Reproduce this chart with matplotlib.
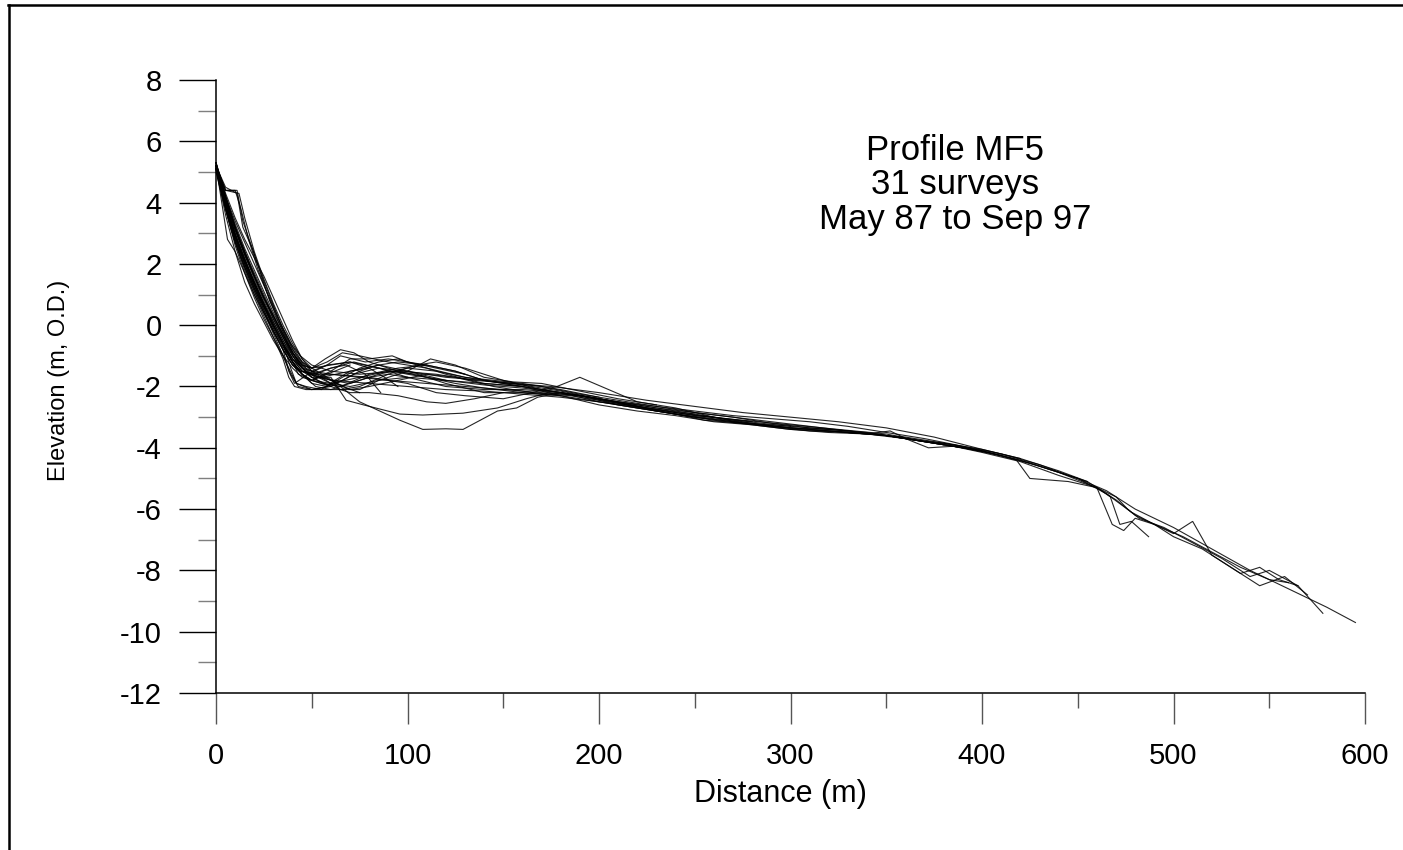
import matplotlib
matplotlib.use("Agg")
import matplotlib.pyplot as plt
from matplotlib.lines import Line2D
from matplotlib.ticker import MultipleLocator

plt.rcParams['font.family'] = ['Liberation Sans', 'DejaVu Sans']
plt.rcParams['axes.unicode_minus'] = False

# ---------------- data: 31 beach profile surveys (distance m, elevation m O.D.) ----------------
dist_01 = [0, 4, 8, 12, 16, 20, 25, 30, 35, 40, 45, 50, 60, 75, 90, 110, 130, 150, 170, 190, 210, 230, 250, 270, 290, 310, 330, 350, 370, 390, 410, 430, 450, 465, 480, 500, 520, 540, 560, 580, 595]
elev_01 = [5.3, 4.3, 3.3, 2.6, 2.0, 1.4, 0.7, 0.0, -0.6, -1.1, -1.4, -1.5, -1.6, -1.7, -1.8, -1.9, -2.0, -2.1, -2.2, -2.3, -2.5, -2.7, -2.85, -3.0, -3.15, -3.3, -3.45, -3.6, -3.8, -4.0, -4.25, -4.6, -5.0, -5.4, -6.0, -6.6, -7.3, -8.0, -8.6, -9.2, -9.7]

dist_02 = [0, 5, 10, 13, 17, 22, 27, 32, 37, 42, 47, 52, 62, 80, 100, 120, 140, 160, 180, 200, 220, 240, 255, 275, 300, 320, 340, 352, 362, 372, 385, 400, 420, 440, 460, 468, 474, 480, 490, 500, 510, 520, 535, 545, 555, 565, 578]
elev_02 = [5.2, 4.4, 4.4, 3.8, 2.8, 1.8, 1.0, 0.2, -0.5, -1.1, -1.5, -1.7, -1.8, -1.9, -2.0, -2.1, -2.15, -2.25, -2.35, -2.5, -2.65, -2.9, -3.1, -3.2, -3.35, -3.45, -3.55, -3.45, -3.75, -4.0, -3.95, -4.15, -4.45, -4.9, -5.3, -6.5, -6.7, -6.3, -6.5, -6.8, -6.4, -7.5, -8.1, -7.9, -8.3, -8.5, -9.4]

dist_03 = [0, 5, 10, 15, 20, 25, 30, 35, 40, 45, 50, 55, 65, 80, 95, 110, 125, 140, 160, 180, 200, 220, 240, 260, 280, 300, 320, 345, 360, 380, 400, 418, 425, 445, 460, 470, 476, 482, 495, 510, 525, 540, 550, 565]
elev_03 = [5.1, 3.9, 2.9, 2.0, 1.2, 0.5, -0.2, -0.8, -1.3, -1.6, -1.8, -1.9, -2.0, -1.6, -1.4, -1.3, -1.5, -1.8, -2.0, -2.3, -2.6, -2.8, -2.95, -3.15, -3.25, -3.4, -3.45, -3.55, -3.7, -3.9, -4.1, -4.4, -5.0, -5.1, -5.3, -5.6, -6.0, -6.3, -6.6, -7.1, -7.6, -8.2, -8.0, -8.5]

dist_04 = [0, 5, 10, 15, 20, 25, 30, 35, 40, 45, 50, 60, 70, 85, 100, 120, 140, 160, 180, 200, 220, 240, 260, 280, 300, 320, 340, 360, 380, 400, 420, 440, 455, 470, 480, 490, 500, 515, 530, 545, 558, 570]
elev_04 = [5.2, 4.1, 3.1, 2.3, 1.6, 0.9, 0.3, -0.3, -0.9, -1.3, -1.6, -1.9, -2.0, -1.8, -1.7, -1.8, -1.9, -2.0, -2.2, -2.4, -2.6, -2.8, -3.0, -3.2, -3.35, -3.4, -3.5, -3.7, -3.85, -4.05, -4.35, -4.75, -5.1, -5.7, -6.2, -6.5, -6.9, -7.3, -7.9, -8.5, -8.2, -8.8]

dist_05 = [0, 6, 12, 18, 24, 30, 36, 42, 48, 55, 70, 85, 100, 120, 140, 160, 180, 200, 225, 250, 275, 300, 325, 350, 375, 400, 425, 450, 465, 478, 490, 505, 520, 535, 550, 560]
elev_05 = [5.3, 4.0, 2.8, 1.9, 1.0, 0.3, -0.5, -1.2, -1.6, -1.7, -1.5, -1.3, -1.5, -1.7, -1.8, -1.95, -2.15, -2.4, -2.7, -2.95, -3.1, -3.25, -3.4, -3.55, -3.85, -4.1, -4.5, -5.0, -5.5, -6.1, -6.5, -6.9, -7.4, -7.9, -8.3, -8.4]

dist_06 = [0, 5, 10, 15, 20, 25, 30, 35, 40, 45, 50, 58, 66, 75, 90, 110, 130, 150, 170, 190, 210, 230, 250, 270, 290, 310, 330, 350, 370, 390, 410, 430, 445, 455]
elev_06 = [5.2, 4.2, 3.3, 2.5, 1.8, 1.1, 0.4, -0.2, -0.8, -1.2, -1.4, -1.2, -0.9, -1.0, -1.2, -1.4, -1.7, -1.9, -2.1, -2.3, -2.5, -2.65, -2.8, -2.95, -3.05, -3.15, -3.3, -3.5, -3.7, -3.95, -4.2, -4.55, -4.9, -5.1]

dist_07 = [0, 5, 10, 15, 20, 25, 30, 35, 40, 45, 50, 60, 75, 90, 105, 120, 140, 160, 180, 200, 220, 240, 260, 280, 300, 320, 340, 360, 380, 400, 420, 440, 460, 467, 472, 478, 487]
elev_07 = [5.1, 3.8, 2.7, 1.9, 1.2, 0.6, 0.0, -0.6, -1.2, -1.6, -1.8, -1.9, -1.7, -1.5, -1.6, -1.9, -2.2, -2.2, -2.3, -2.5, -2.7, -2.9, -3.05, -3.2, -3.35, -3.45, -3.55, -3.65, -3.85, -4.1, -4.4, -4.8, -5.3, -5.6, -6.5, -6.4, -6.9]

dist_08 = [0, 5, 11, 14, 19, 24, 29, 34, 39, 44, 50, 60, 75, 95, 115, 135, 155, 175, 200, 225, 250, 275, 300, 325, 350, 375, 400, 420]
elev_08 = [5.2, 4.4, 4.4, 3.4, 2.5, 1.6, 0.8, 0.0, -0.6, -1.0, -1.3, -1.5, -1.6, -1.5, -1.6, -1.8, -1.9, -2.0, -2.2, -2.45, -2.65, -2.85, -3.0, -3.15, -3.35, -3.65, -4.05, -4.35]

dist_09 = [0, 4, 8, 13, 18, 23, 28, 33, 38, 42, 47, 55, 65, 75, 90, 105, 115, 130, 150, 170, 190, 210, 230, 250, 270, 290, 310, 330, 350, 370, 390, 410]
elev_09 = [5.0, 4.0, 3.1, 2.2, 1.4, 0.7, 0.0, -0.7, -1.4, -1.9, -2.0, -2.1, -2.1, -2.0, -1.6, -1.3, -1.2, -1.4, -1.8, -2.1, -2.3, -2.55, -2.8, -3.0, -3.15, -3.3, -3.4, -3.5, -3.6, -3.8, -4.0, -4.25]

dist_10 = [0, 5, 10, 15, 20, 25, 30, 35, 40, 45, 50, 60, 68, 77, 96, 108, 129, 147, 162, 174, 190, 210, 230, 250, 270, 290, 310, 330, 350, 370, 385, 400]
elev_10 = [5.3, 4.0, 2.9, 2.1, 1.3, 0.6, 0.0, -0.6, -1.1, -1.5, -1.7, -1.7, -2.45, -2.6, -2.9, -2.93, -2.87, -2.7, -2.4, -2.2, -2.3, -2.6, -2.8, -3.0, -3.15, -3.3, -3.45, -3.5, -3.6, -3.8, -3.9, -4.1]

dist_11 = [0, 5, 10, 15, 20, 25, 30, 35, 40, 45, 50, 56, 65, 75, 96, 108, 120, 129, 147, 157, 168, 180, 200, 220, 240, 260, 280, 300, 320, 340, 360, 380]
elev_11 = [5.2, 4.1, 3.2, 2.4, 1.6, 0.9, 0.2, -0.4, -1.0, -1.4, -1.7, -1.9, -2.0, -2.5, -3.1, -3.4, -3.38, -3.4, -2.8, -2.7, -2.35, -2.2, -2.5, -2.7, -2.9, -3.1, -3.25, -3.4, -3.5, -3.55, -3.7, -3.9]

dist_12 = [0, 5, 10, 15, 20, 25, 30, 35, 40, 45, 50, 60, 80, 100, 115, 130, 150, 165, 178, 190, 205, 220, 240, 260, 275, 290, 310, 330, 350]
elev_12 = [5.2, 4.0, 3.0, 2.2, 1.4, 0.7, 0.1, -0.5, -1.1, -1.5, -1.6, -1.6, -1.7, -1.9, -2.2, -2.3, -2.4, -2.2, -2.0, -1.7, -2.1, -2.5, -2.7, -3.0, -3.2, -3.25, -3.35, -3.45, -3.6]

dist_13 = [0, 5, 10, 15, 20, 25, 30, 35, 40, 45, 50, 60, 70, 80, 92, 100, 110, 125, 140, 155, 170, 190, 210, 230, 250, 270, 290, 310, 330]
elev_13 = [5.1, 3.6, 2.4, 1.4, 0.7, 0.1, -0.5, -1.0, -1.4, -1.7, -1.8, -1.5, -1.1, -1.1, -1.0, -1.2, -1.3, -1.5, -1.8, -1.9, -2.0, -2.25, -2.45, -2.65, -2.85, -3.0, -3.2, -3.35, -3.45]

dist_14 = [0, 5, 10, 15, 20, 25, 30, 35, 40, 45, 50, 60, 70, 80, 95, 110, 125, 145, 165, 185, 205, 225, 245, 265, 285, 300]
elev_14 = [5.2, 4.2, 3.4, 2.7, 2.0, 1.3, 0.6, -0.1, -0.7, -1.2, -1.5, -1.8, -2.1, -2.0, -1.8, -1.6, -1.7, -2.0, -2.2, -2.3, -2.5, -2.7, -2.9, -3.05, -3.2, -3.3]

dist_15 = [0, 4, 9, 14, 19, 24, 29, 34, 39, 44, 50, 60, 72, 85, 100, 120, 140, 160, 180, 200, 220, 240, 260, 280]
elev_15 = [5.3, 4.1, 3.1, 2.3, 1.5, 0.8, 0.1, -0.5, -1.1, -1.5, -1.6, -1.4, -1.2, -1.4, -1.6, -1.8, -1.95, -2.05, -2.2, -2.4, -2.65, -2.85, -3.0, -3.15]

dist_16 = [0, 6, 10, 15, 20, 25, 30, 35, 38, 41, 48, 58, 70, 85, 100, 120, 140, 160, 180, 200, 225, 250]
elev_16 = [5.2, 2.8, 2.4, 1.7, 1.0, 0.4, -0.2, -0.8, -1.5, -1.9, -1.6, -1.3, -1.2, -1.4, -1.7, -2.0, -2.1, -2.1, -2.2, -2.4, -2.7, -2.9]

dist_17 = [0, 5, 11, 14, 19, 28, 37, 42, 47, 55, 65, 75, 85, 100, 112, 125, 140, 155, 170, 190, 210, 230]
elev_17 = [5.2, 4.5, 4.3, 3.2, 2.5, 0.8, -0.4, -1.0, -1.4, -1.7, -2.1, -2.1, -1.8, -1.5, -1.1, -1.3, -1.7, -1.85, -1.9, -2.15, -2.4, -2.6]

dist_18 = [0, 5, 10, 15, 20, 25, 30, 35, 40, 45, 52, 60, 70, 85, 100, 115, 130, 145, 160, 180, 200]
elev_18 = [5.1, 3.9, 2.8, 2.0, 1.3, 0.6, -0.1, -0.7, -1.2, -1.6, -2.0, -2.1, -1.9, -1.6, -1.4, -1.5, -1.7, -1.8, -1.9, -2.1, -2.35]

dist_19 = [0, 5, 10, 15, 20, 25, 30, 35, 40, 45, 50, 57, 65, 72, 80, 95, 110, 125, 140, 160, 180]
elev_19 = [5.2, 4.0, 3.1, 2.3, 1.6, 0.9, 0.3, -0.3, -0.9, -1.3, -1.4, -1.1, -0.8, -0.9, -1.2, -1.5, -1.7, -1.9, -2.05, -2.2, -2.3]

dist_20 = [0, 5, 10, 15, 20, 25, 30, 35, 39, 43, 50, 58, 66, 75, 85, 95, 105, 120, 140, 160]
elev_20 = [5.2, 3.8, 2.7, 1.8, 1.0, 0.3, -0.4, -1.0, -1.6, -2.0, -2.1, -2.0, -1.7, -1.4, -1.2, -1.1, -1.3, -1.6, -1.9, -2.0]

dist_21 = [0, 5, 10, 15, 20, 25, 30, 35, 40, 45, 50, 60, 70, 80, 95, 110, 120, 135, 150]
elev_21 = [5.1, 4.1, 3.2, 2.4, 1.7, 1.0, 0.3, -0.3, -0.9, -1.4, -1.7, -2.0, -2.2, -2.2, -2.3, -2.5, -2.55, -2.4, -2.2]

dist_22 = [0, 5, 10, 15, 20, 25, 30, 35, 40, 45, 50, 58, 65, 78, 90, 100, 115, 130]
elev_22 = [5.3, 4.3, 3.5, 2.8, 2.2, 1.6, 0.9, 0.2, -0.5, -1.1, -1.5, -1.3, -1.0, -1.2, -1.1, -1.2, -1.4, -1.6]

dist_23 = [0, 5, 10, 15, 20, 25, 30, 35, 40, 45, 50, 60, 72, 85, 100, 120]
elev_23 = [5.2, 4.0, 2.9, 2.0, 1.2, 0.5, -0.2, -0.8, -1.3, -1.6, -1.8, -2.0, -1.6, -1.4, -1.5, -1.8]

dist_24 = [0, 5, 10, 15, 20, 25, 30, 35, 40, 45, 50, 58, 66, 75, 85, 95, 110]
elev_24 = [5.1, 3.9, 2.9, 2.1, 1.4, 0.7, 0.0, -0.6, -1.2, -1.6, -1.9, -2.0, -1.8, -1.5, -1.3, -1.2, -1.3]

dist_25 = [0, 5, 10, 15, 20, 25, 30, 35, 40, 45, 50, 60, 70, 80, 90, 100]
elev_25 = [5.2, 4.1, 3.2, 2.3, 1.5, 0.8, 0.1, -0.5, -1.0, -1.4, -1.6, -1.8, -1.9, -1.7, -1.6, -1.7]

dist_26 = [0, 5, 10, 15, 20, 25, 30, 35, 40, 45, 52, 60, 68, 78, 86]
elev_26 = [5.2, 3.9, 2.8, 1.9, 1.1, 0.4, -0.2, -0.8, -1.3, -1.5, -1.6, -1.4, -1.3, -1.6, -2.2]

dist_27 = [0, 5, 10, 15, 20, 25, 30, 35, 40, 45, 50, 60, 70, 80, 88, 95]
elev_27 = [5.3, 4.2, 3.2, 2.4, 1.6, 0.9, 0.2, -0.4, -0.9, -1.3, -1.4, -1.3, -1.2, -1.4, -1.7, -2.0]

dist_28 = [0, 5, 10, 15, 20, 25, 30, 35, 38, 41, 47, 55, 62, 70, 80]
elev_28 = [5.1, 3.8, 2.6, 1.7, 0.9, 0.2, -0.4, -1.1, -1.7, -2.0, -2.1, -2.1, -1.8, -1.5, -1.4]

dist_29 = [0, 5, 12, 15, 20, 25, 30, 35, 40, 45, 50, 58, 66, 75]
elev_29 = [5.2, 4.4, 4.3, 3.5, 2.4, 1.5, 0.7, 0.0, -0.6, -1.1, -1.4, -1.7, -2.0, -2.2]

dist_30 = [0, 5, 10, 15, 20, 25, 30, 35, 40, 43, 50, 58, 70]
elev_30 = [5.2, 4.0, 3.0, 2.1, 1.3, 0.6, -0.1, -0.7, -1.2, -1.6, -1.8, -1.6, -1.3]

dist_31 = [0, 5, 10, 15, 20, 25, 30, 35, 39, 42, 50, 60]
elev_31 = [5.1, 3.9, 2.9, 2.1, 1.4, 0.7, 0.0, -0.6, -1.4, -1.9, -2.1, -2.0]

surveys = [
    (dist_01, elev_01), (dist_02, elev_02), (dist_03, elev_03), (dist_04, elev_04),
    (dist_05, elev_05), (dist_06, elev_06), (dist_07, elev_07), (dist_08, elev_08),
    (dist_09, elev_09), (dist_10, elev_10), (dist_11, elev_11), (dist_12, elev_12),
    (dist_13, elev_13), (dist_14, elev_14), (dist_15, elev_15), (dist_16, elev_16),
    (dist_17, elev_17), (dist_18, elev_18), (dist_19, elev_19), (dist_20, elev_20),
    (dist_21, elev_21), (dist_22, elev_22), (dist_23, elev_23), (dist_24, elev_24),
    (dist_25, elev_25), (dist_26, elev_26), (dist_27, elev_27), (dist_28, elev_28),
    (dist_29, elev_29), (dist_30, elev_30), (dist_31, elev_31),
]

x_ticks = [0, 100, 200, 300, 400, 500, 600]
y_ticks = [-12, -10, -8, -6, -4, -2, 0, 2, 4, 6, 8]
annotation = "Profile MF5\n31 surveys\nMay 87 to Sep 97"

# ---------------- figure ----------------
fig = plt.figure(figsize=(14.03, 8.5), dpi=100)
ax = fig.add_axes([216 / 1403, 1 - 693 / 850, (1365 - 216) / 1403, (693 - 80) / 850])

for d, z in surveys:
    ax.plot(d, z, color='black', lw=0.8, alpha=0.85, solid_joinstyle='miter', clip_on=False)

ax.set_xlim(0, 600)
ax.set_ylim(-12, 8)
ax.set_xticks(x_ticks)
ax.set_yticks(y_ticks)
ax.xaxis.set_minor_locator(MultipleLocator(50))
ax.yaxis.set_minor_locator(MultipleLocator(1))

for s in ['top', 'right']:
    ax.spines[s].set_visible(False)
for s in ['left', 'bottom']:
    ax.spines[s].set_linewidth(1.1)
    ax.spines[s].set_color('black')

ax.tick_params(axis='y', which='major', direction='out', length=27, width=1.0, color='black',
               labelsize=21, pad=12)
ax.tick_params(axis='y', which='minor', direction='out', length=13, width=1.0, color='#7f7f7f')
ax.tick_params(axis='x', which='major', direction='out', length=22, width=1.0, color='#555555',
               labelsize=21, pad=13)
ax.tick_params(axis='x', which='minor', direction='out', length=11, width=1.0, color='#555555')

ax.set_xlabel("Distance (m)", fontsize=22)
ax.xaxis.set_label_coords(0.491, -0.140)
ax.set_ylabel("Elevation (m, O.D.)", fontsize=17)
ax.yaxis.set_label_coords(-0.127, 0.51)

ax.text(0.643, 0.829, annotation, transform=ax.transAxes, ha='center', va='center',
        multialignment='center', fontsize=25, linespacing=1.05)

# outer frame (top and left edges visible in the reference)
fig.add_artist(Line2D([8 / 1403, 1.0], [1 - 5 / 850, 1 - 5 / 850], transform=fig.transFigure,
                      color='black', lw=1.8))
fig.add_artist(Line2D([9 / 1403, 9 / 1403], [0.0, 1 - 5 / 850], transform=fig.transFigure,
                      color='black', lw=1.8))

fig.savefig("out.png", dpi=100)
